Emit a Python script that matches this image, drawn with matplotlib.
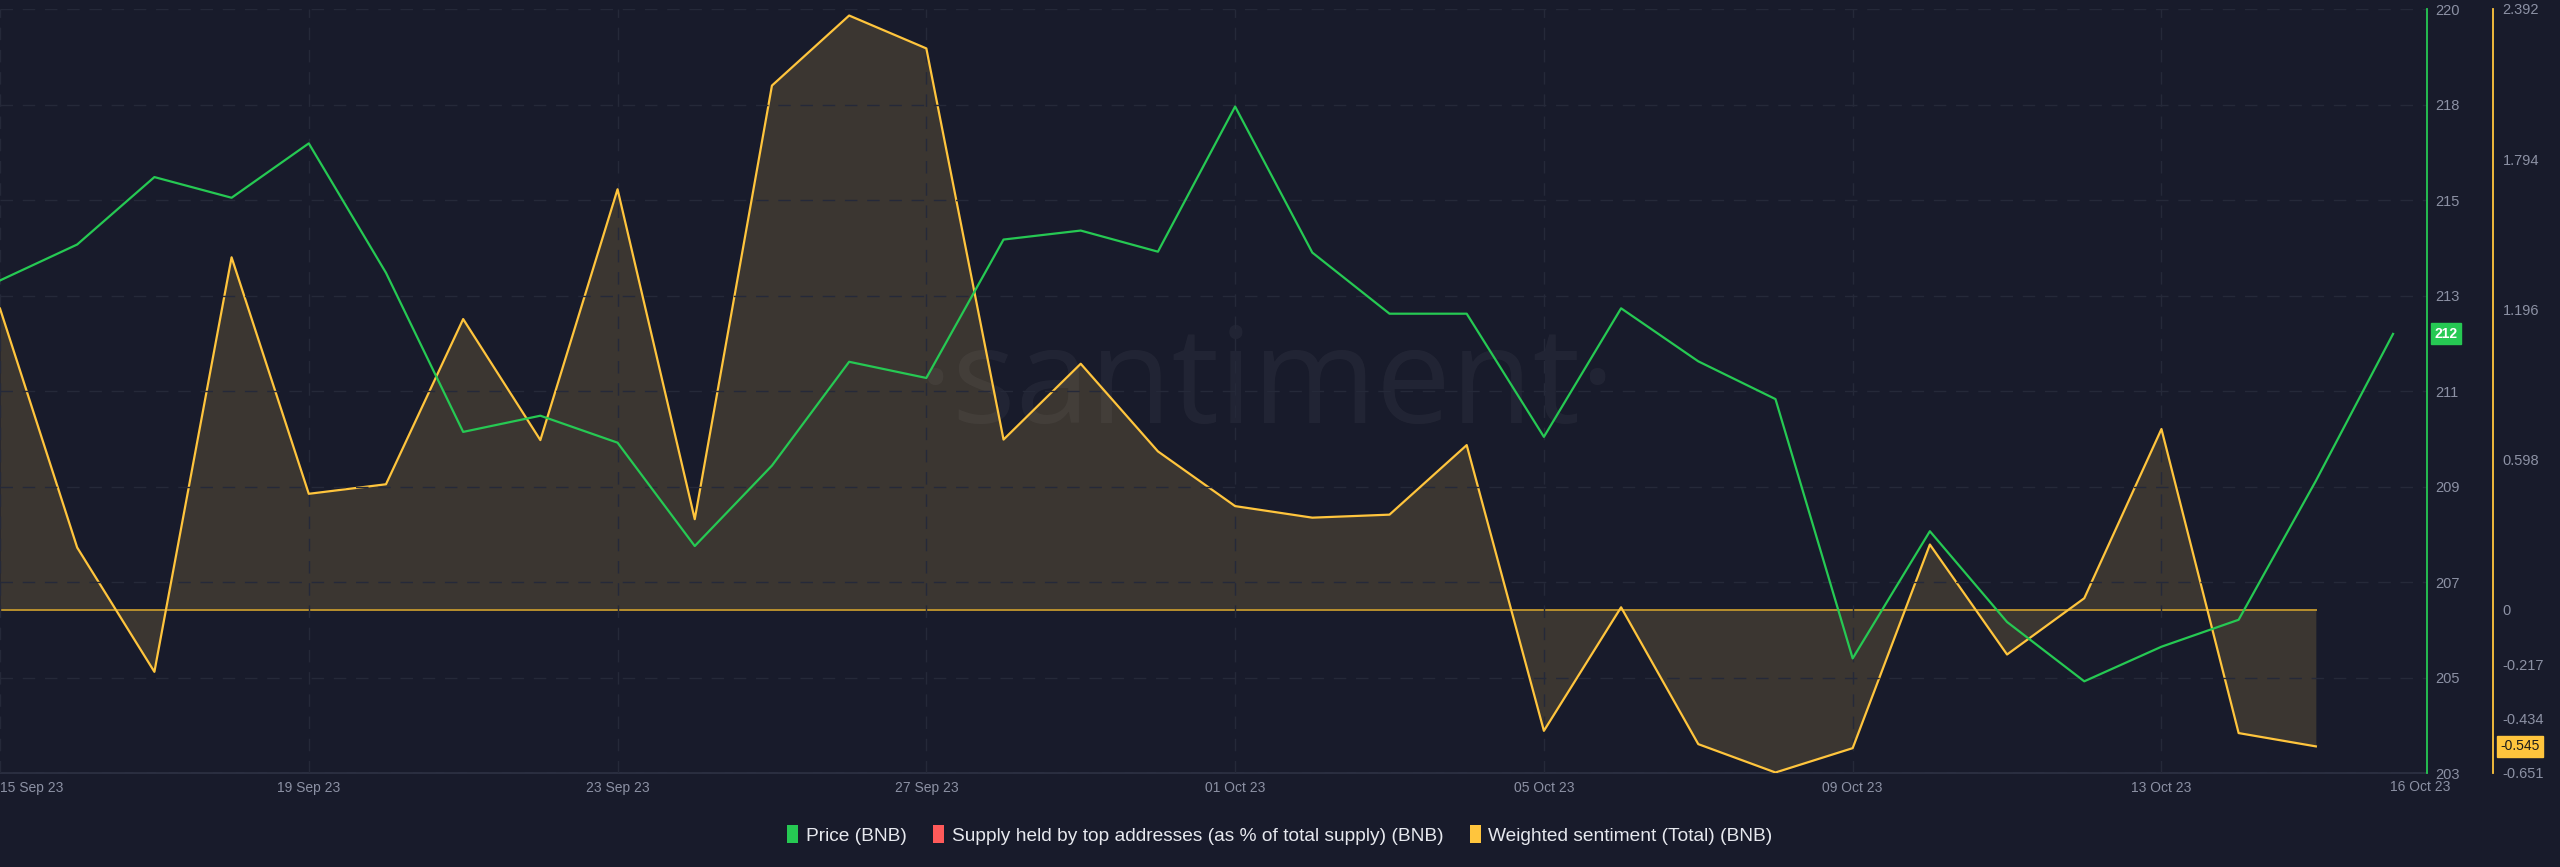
import matplotlib
matplotlib.use("Agg")
import matplotlib.pyplot as plt
import matplotlib.dates as mdates
import matplotlib.transforms as mtransforms
from matplotlib.patches import Rectangle
import pandas as pd
import numpy as np

# ---------------- data ----------------
price_dates = list(pd.date_range("2023-09-15", periods=32, freq="D"))
price = [213.96, 214.76, 216.26, 215.80, 217.01, 214.13, 210.59, 210.95, 210.35,
         208.05, 209.84, 212.15, 211.79, 214.87, 215.07, 214.60, 217.83, 214.58,
         213.22, 213.22, 210.48, 213.34, 212.16, 211.32, 205.55, 208.38, 206.36,
         205.04, 205.81, 206.41, 209.50, 212.77]
sent_dates = price_dates[:31]
sentiment = [1.199, 0.247, -0.248, 1.403, 0.461, 0.499, 1.157, 0.675, 1.674,
             0.360, 2.087, 2.366, 2.235, 0.677, 0.979, 0.630, 0.412, 0.366,
             0.378, 0.655, -0.483, 0.009, -0.536, -0.649, -0.552, 0.259,
             -0.179, 0.045, 0.719, -0.492, -0.545]
price_ticks = [203, 205, 207, 209, 211, 213, 215, 218, 220]
sent_ticks = [2.392, 1.794, 1.196, 0.598, 0, -0.217, -0.434, -0.651]
sent_tick_labels = ["2.392", "1.794", "1.196", "0.598", "0", "-0.217", "-0.434", "-0.651"]
xtick_dates = list(pd.to_datetime(["2023-09-15", "2023-09-19", "2023-09-23", "2023-09-27",
                                   "2023-10-01", "2023-10-05", "2023-10-09", "2023-10-13"]))
legend_labels = ["Price (BNB)", "Supply held by top addresses (as % of total supply) (BNB)",
                 "Weighted sentiment (Total) (BNB)"]

# ---------------- style ----------------
BG = "#181b2b"
GREEN = "#26c953"
YELLOW = "#ffc53d"
RED = "#ff5a5a"
FILL = "#3b3631"
GRID = "#252939"
TICKC = "#8c91a4"
FONT = ["Liberation Sans", "DejaVu Sans"]
plt.rcParams["font.family"] = FONT

fig = plt.figure(figsize=(25.6, 8.67), dpi=100, facecolor=BG)
ax = fig.add_axes([0.0, 1 - 773 / 867, 2427 / 2560, (773 - 9) / 867])
ax.set_facecolor(BG)
ax2 = ax.twinx()

# sentiment on primary axis (drawn below)
ax.fill_between(sent_dates, sentiment, 0, color=FILL, linewidth=0, zorder=1)
ax.plot([sent_dates[0], sent_dates[-1]], [0, 0], color="#b8902e", linewidth=1.4, zorder=2)
ax.plot(sent_dates, sentiment, color=YELLOW, linewidth=1.6, zorder=3)
ax.set_ylim(-0.651, 2.392)

# watermark (semi-transparent, above fill, below lines)
ax.text(1266 / 2560, 1 - 423 / 867, "\u00b7santiment\u00b7", transform=fig.transFigure,
        ha="center", va="baseline", fontsize=96, color="white", alpha=0.045,
        family=["Open Sans", "DejaVu Sans"], zorder=1.5)

# price on twin axis (drawn above)
ax2.plot(price_dates, price, color=GREEN, linewidth=1.6, zorder=4)
ax2.set_ylim(203, 220)

xmin = price_dates[0]
xmax = price_dates[0] + pd.Timedelta(days=31.44)
ax.set_xlim(xmin, xmax)

# grids
ax2.set_yticks(np.linspace(203, 220, 9))
ax2.set_yticklabels([str(t) for t in price_ticks])
ax2.grid(axis="y", color=GRID, linewidth=1.0, dashes=(9, 7))
ax.set_xticks(xtick_dates)
ax.xaxis.set_major_formatter(mdates.DateFormatter("%d %b %y"))
ax.grid(axis="x", color=GRID, linewidth=1.0, dashes=(9, 7))
ax.set_axisbelow(False)

# sentiment axis on the right, offset
ax.yaxis.tick_right()
ax.set_yticks(sent_ticks)
ax.set_yticklabels(sent_tick_labels)
ax.spines["right"].set_position(("axes", 2493 / 2427))
ax.spines["right"].set_color(YELLOW)
ax.spines["right"].set_linewidth(1.3)
for s in ["left", "top"]:
    ax.spines[s].set_visible(False)
    ax2.spines[s].set_visible(False)
ax2.spines["bottom"].set_visible(False)
ax.spines["bottom"].set_color("#2a2e40")
ax.spines["bottom"].set_linewidth(1.5)
ax2.spines["right"].set_color(GREEN)
ax2.spines["right"].set_linewidth(1.3)

ax.tick_params(axis="y", length=0, pad=7, labelsize=10.5, labelcolor=TICKC)
ax2.tick_params(axis="y", length=0, pad=6, labelsize=10.5, labelcolor=TICKC)
ax.tick_params(axis="x", length=0, pad=6, labelsize=10, labelcolor=TICKC)
fig.canvas.draw()
ax.get_xticklabels()[0].set_horizontalalignment("left")

fig.text(2420 / 2560, 1 - 787 / 867, "16 Oct 23", ha="center", va="center",
         fontsize=10, color=TICKC)

# current-value boxes
tr2 = mtransforms.blended_transform_factory(ax2.transAxes, ax2.transData)
ax2.text(2446 / 2427, price[-1], "212", transform=tr2, ha="center", va="center",
         fontsize=10, color="white", fontweight="bold", clip_on=False,
         bbox=dict(boxstyle="square,pad=0.25", facecolor=GREEN, edgecolor=GREEN))
tr1 = mtransforms.blended_transform_factory(ax.transAxes, ax.transData)
ax.text(2520 / 2427, sentiment[-1], "-0.545", transform=tr1, ha="center", va="center",
        fontsize=10, color="#1b1b1b", clip_on=False,
        bbox=dict(boxstyle="square,pad=0.25", facecolor=YELLOW, edgecolor=YELLOW))

# legend
handles = [Rectangle((0, 0), 1, 1, facecolor=c, edgecolor="none") for c in (GREEN, RED, YELLOW)]
fig.legend(handles, legend_labels, loc="center", bbox_to_anchor=(0.5, 1 - 835 / 867),
           ncol=3, frameon=False, fontsize=13.8, labelcolor="#e6e8ee",
           handlelength=0.55, handleheight=1.0, handletextpad=0.4, columnspacing=1.4)

fig.savefig("out.png", dpi=100, facecolor=BG)
